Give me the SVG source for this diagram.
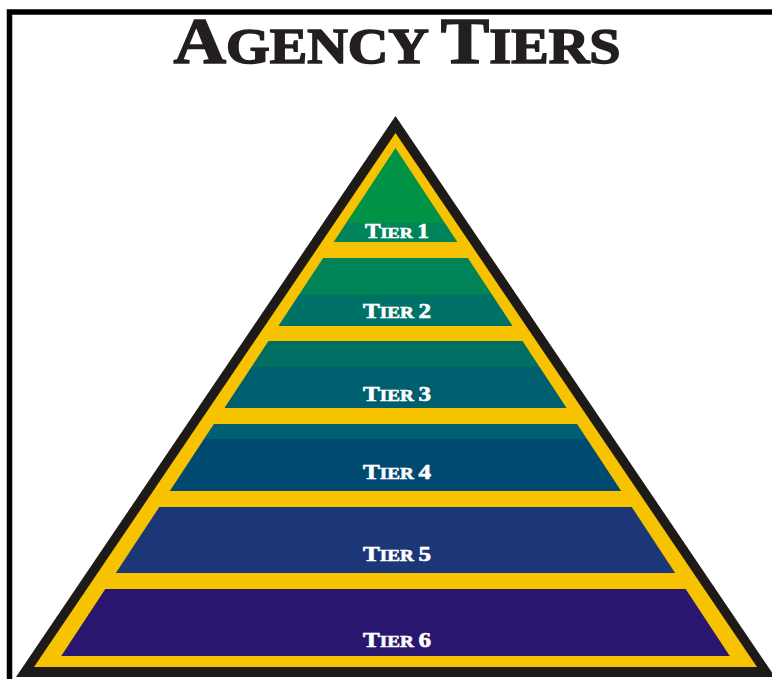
<svg xmlns="http://www.w3.org/2000/svg" width="772" height="679" viewBox="0 0 772 679">
<style>
.lbl{font-family:"Liberation Serif","DejaVu Serif",serif;font-weight:bold;fill:#ffffff;stroke:#ffffff;stroke-width:0.6;text-anchor:middle}
.ttl{font-family:"Liberation Serif","DejaVu Serif",serif;font-weight:bold;fill:#231f20;stroke:#231f20;stroke-width:1.6;text-anchor:middle}
</style>
<rect width="772" height="679" fill="#ffffff"/>
<g id="frame">
<path d="M9.5 679 V12 H772" fill="none" stroke="#000000" stroke-width="5.5"/>
</g>
<g id="title">
<text class="ttl" x="397" y="63" textLength="447" lengthAdjust="spacingAndGlyphs"><tspan font-size="66">A</tspan><tspan font-size="51">GENCY </tspan><tspan font-size="66">T</tspan><tspan font-size="51">IERS</tspan></text>
</g>
<g id="pyramid-frame">
<polygon points="395.5,116 775,677 16,677" fill="#1e1a17"/>
<polygon points="395.5,133 757,667 34,667" fill="#f7c300"/>
</g>
<g id="tier1">
<polygon points="395.5,148 444.85,223 346.15,223" fill="#009346"/>
<polygon points="346.15,223 444.85,223 457.35,242 333.65,242" fill="#00835a"/>
<text class="lbl" x="397" y="238" textLength="64" lengthAdjust="spacingAndGlyphs"><tspan font-size="20">T</tspan><tspan font-size="15.5">IER </tspan><tspan font-size="20">1</tspan></text>
</g>
<g id="tier2">
<polygon points="323.12,258 467.88,258 492.23,295 298.77,295" fill="#008457"/>
<polygon points="298.77,295 492.23,295 512.62,326 278.38,326" fill="#007166"/>
<text class="lbl" x="397" y="318" textLength="68" lengthAdjust="spacingAndGlyphs"><tspan font-size="21">T</tspan><tspan font-size="16">IER </tspan><tspan font-size="21">2</tspan></text>
</g>
<g id="tier3">
<polygon points="268.5,341 522.5,341 539.6,367 251.4,367" fill="#006f61"/>
<polygon points="251.4,367 539.6,367 566.58,408 224.42,408" fill="#005f6f"/>
<text class="lbl" x="397" y="401" textLength="68" lengthAdjust="spacingAndGlyphs"><tspan font-size="21">T</tspan><tspan font-size="16">IER </tspan><tspan font-size="21">3</tspan></text>
</g>
<g id="tier4">
<polygon points="213.89,424 577.11,424 586.98,439 204.02,439" fill="#005f70"/>
<polygon points="204.02,439 586.98,439 621.19,491 169.81,491" fill="#004a72"/>
<text class="lbl" x="397" y="479" textLength="68" lengthAdjust="spacingAndGlyphs"><tspan font-size="21">T</tspan><tspan font-size="16">IER </tspan><tspan font-size="21">4</tspan></text>
</g>
<g id="tier5">
<polygon points="159.28,507 631.72,507 675.15,573 115.85,573" fill="#1c3777"/>
<text class="lbl" x="397" y="561" textLength="68" lengthAdjust="spacingAndGlyphs"><tspan font-size="21">T</tspan><tspan font-size="16">IER </tspan><tspan font-size="21">5</tspan></text>
</g>
<g id="tier6">
<polygon points="105.32,589 685.68,589 729.76,656 61.24,656" fill="#29166f"/>
<text class="lbl" x="397" y="647" textLength="68" lengthAdjust="spacingAndGlyphs"><tspan font-size="21">T</tspan><tspan font-size="16">IER </tspan><tspan font-size="21">6</tspan></text>
</g>
<g id="connectors"/>
</svg>
